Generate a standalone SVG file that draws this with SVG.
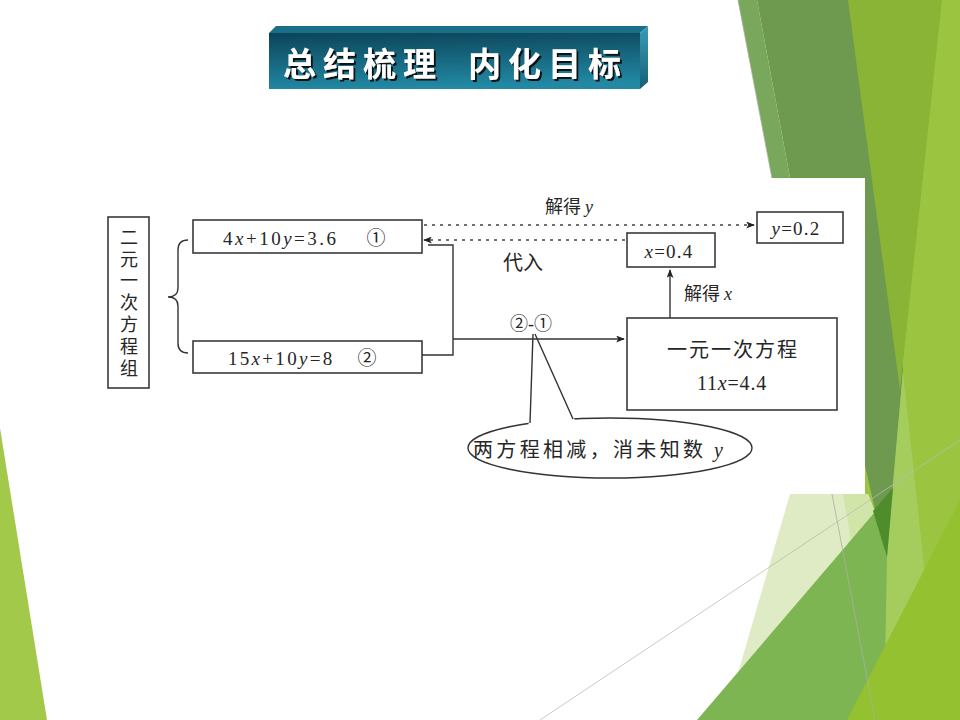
<svg xmlns="http://www.w3.org/2000/svg" width="960" height="720" viewBox="0 0 960 720">
<defs>
<style>
.box{fill:#fff;stroke:#3a3a3a;stroke-width:1.6}
.t{font-family:"Liberation Serif","Noto Sans CJK SC",serif;fill:#262626}
.cjk{font-family:"Noto Sans CJK SC","Liberation Serif",sans-serif;fill:#262626}
.ln{fill:none;stroke:#333;stroke-width:1.4}
.dot{fill:none;stroke:#444;stroke-width:1.4;stroke-dasharray:3 5}
.ttl{font-family:"Noto Sans CJK SC",sans-serif;font-weight:bold;font-size:33px;fill:#fff}
</style>
<filter id="sh" x="-10%" y="-30%" width="120%" height="160%">
<feDropShadow dx="2" dy="2" stdDeviation="0.6" flood-color="#0a0a0a" flood-opacity="0.95"/>
</filter>
<marker id="ah" viewBox="0 0 10 8" refX="9" refY="4" markerWidth="9" markerHeight="7" orient="auto" markerUnits="userSpaceOnUse">
<path d="M0,0 L10,4 L0,8 L2.5,4 Z" fill="#222"/>
</marker>
<linearGradient id="face" x1="0" y1="0" x2="0.15" y2="1">
<stop offset="0" stop-color="#0B4459"/>
<stop offset="1" stop-color="#2288A3"/>
</linearGradient>
<linearGradient id="side" x1="0" y1="0" x2="0" y2="1">
<stop offset="0" stop-color="#3C9CB5"/>
<stop offset="1" stop-color="#145F76"/>
</linearGradient>
</defs>

<!-- background slide shapes -->
<g id="background">
<rect width="960" height="720" fill="#fff"/>
<polygon points="0,428 47,720 0,720" fill="#A3C94A"/>
<polygon points="842,0 960,0 960,720 850,720" fill="#9BC540"/>
<polygon points="738,0 757,0 790,178 772,178" fill="#79A75C"/>
<polygon points="757,0 880,0 903,370 893,488 887,557 875,510 866,470 790,178" fill="#6E9A4F"/>
<polygon points="848,0 942,0 900,390" fill="#89B435"/>
<polygon points="790,494 868,494 875,512 738,673" fill="#DFEBC4"/>
<polygon points="843,494 868,494 875,512 851,540" fill="#D2E5A8"/>
<polygon points="903,372 933,650 884,720 886,560" fill="#A5CD5E"/>
<polygon points="697,720 875,512 893,488 887,557 884,720" fill="#7DB553"/>
<polygon points="873,511 893,488 887,557" fill="#4F8C2B"/>
<polygon points="847,720 960,500 960,720" fill="#93C12F"/>
<line x1="738" y1="0" x2="875" y2="720" stroke="#a9b0a0" stroke-width="0.8"/>
<line x1="540" y1="720" x2="960" y2="440" stroke="#b8bdb0" stroke-width="0.8"/>
<rect x="100" y="178" width="765" height="316" fill="#fff"/>
</g>

<!-- title banner -->
<g id="title">
<polygon points="269,33 276,26 648,26 640,33" fill="#1A6F88"/>
<polygon points="640,33 648,26 648,82 640,89" fill="url(#side)"/>
<rect x="269" y="33" width="371" height="56" fill="url(#face)"/>
<text class="ttl" x="283" y="76" letter-spacing="7" filter="url(#sh)">总结梳理</text>
<text class="ttl" x="468" y="76" letter-spacing="7" filter="url(#sh)">内化目标</text>
</g>

<!-- left label box -->
<g id="n-system">
<rect class="box" x="108" y="217" width="41" height="171"/>
<text class="cjk" x="129" y="228" font-size="18" writing-mode="vertical-rl" letter-spacing="3.8">二元一次方程组</text>
</g>

<g id="brace">
<path class="ln" d="M188,240 Q178,240 178,250 L178,288 Q178,297 168,297 Q178,297 178,306 L178,343 Q178,353 188,353"/>
</g>

<g id="n-eq1">
<rect class="box" x="193" y="220" width="229" height="33"/>
<text class="t" x="223" y="245" font-size="19" letter-spacing="2.5">4<tspan font-style="italic">x</tspan>+10<tspan font-style="italic">y</tspan>=3.6</text>
<text class="t" x="376" y="245" font-size="19" text-anchor="middle">①</text>
</g>

<g id="n-eq2">
<rect class="box" x="193" y="341" width="229" height="32"/>
<text class="t" x="228" y="365" font-size="19" letter-spacing="2.3">15<tspan font-style="italic">x</tspan>+10<tspan font-style="italic">y</tspan>=8</text>
<text class="t" x="367" y="365" font-size="19" text-anchor="middle">②</text>
</g>

<g id="n-single">
<rect class="box" x="627" y="318" width="210" height="92"/>
<text class="cjk" x="733" y="357" font-size="20" text-anchor="middle" letter-spacing="2">一元一次方程</text>
<text class="t" x="732" y="390" font-size="20" text-anchor="middle" letter-spacing="0.8">11<tspan font-style="italic">x</tspan>=4.4</text>
</g>

<g id="n-x">
<rect class="box" x="627" y="233" width="88" height="34"/>
<text class="t" x="669" y="258" font-size="19" text-anchor="middle" letter-spacing="1.2"><tspan font-style="italic">x</tspan>=0.4</text>
</g>

<g id="n-y">
<rect class="box" x="757" y="212" width="86" height="31"/>
<text class="t" x="796" y="235" font-size="19" text-anchor="middle" letter-spacing="1.2"><tspan font-style="italic">y</tspan>=0.2</text>
</g>

<g id="n-callout">
<ellipse cx="610" cy="448" rx="142" ry="30" fill="#fff" stroke="#333" stroke-width="1.4"/>
<polygon points="528.5,426 533,334 576,422.5" fill="#fff"/>
<path class="ln" d="M530,423 L533,334 M535,334 L573,419"/>
<text class="cjk" x="473" y="457" font-size="20" textLength="250">两方程相减，消未知数 <tspan class="t" font-style="italic">y</tspan></text>
</g>

<g id="connectors">
<path class="ln" d="M422,355 L453,355 L453,245 L428,245"/>
<path class="ln" d="M453,339 L624,339" marker-end="url(#ah)"/>
<path class="ln" d="M670,318 L670,270" marker-end="url(#ah)"/>
<path class="dot" d="M625,240 L424,240" marker-end="url(#ah)"/>
<path class="dot" d="M424,225 L754,225" marker-end="url(#ah)"/>
<text class="cjk" x="545" y="213" font-size="18">解得 <tspan class="t" font-style="italic">y</tspan></text>
<text class="cjk" x="503" y="270" font-size="20">代入</text>
<text class="cjk" x="684" y="300" font-size="18">解得 <tspan class="t" font-style="italic">x</tspan></text>
<text class="t" x="531" y="330" font-size="18" text-anchor="middle">②-①</text>
</g>
</svg>
